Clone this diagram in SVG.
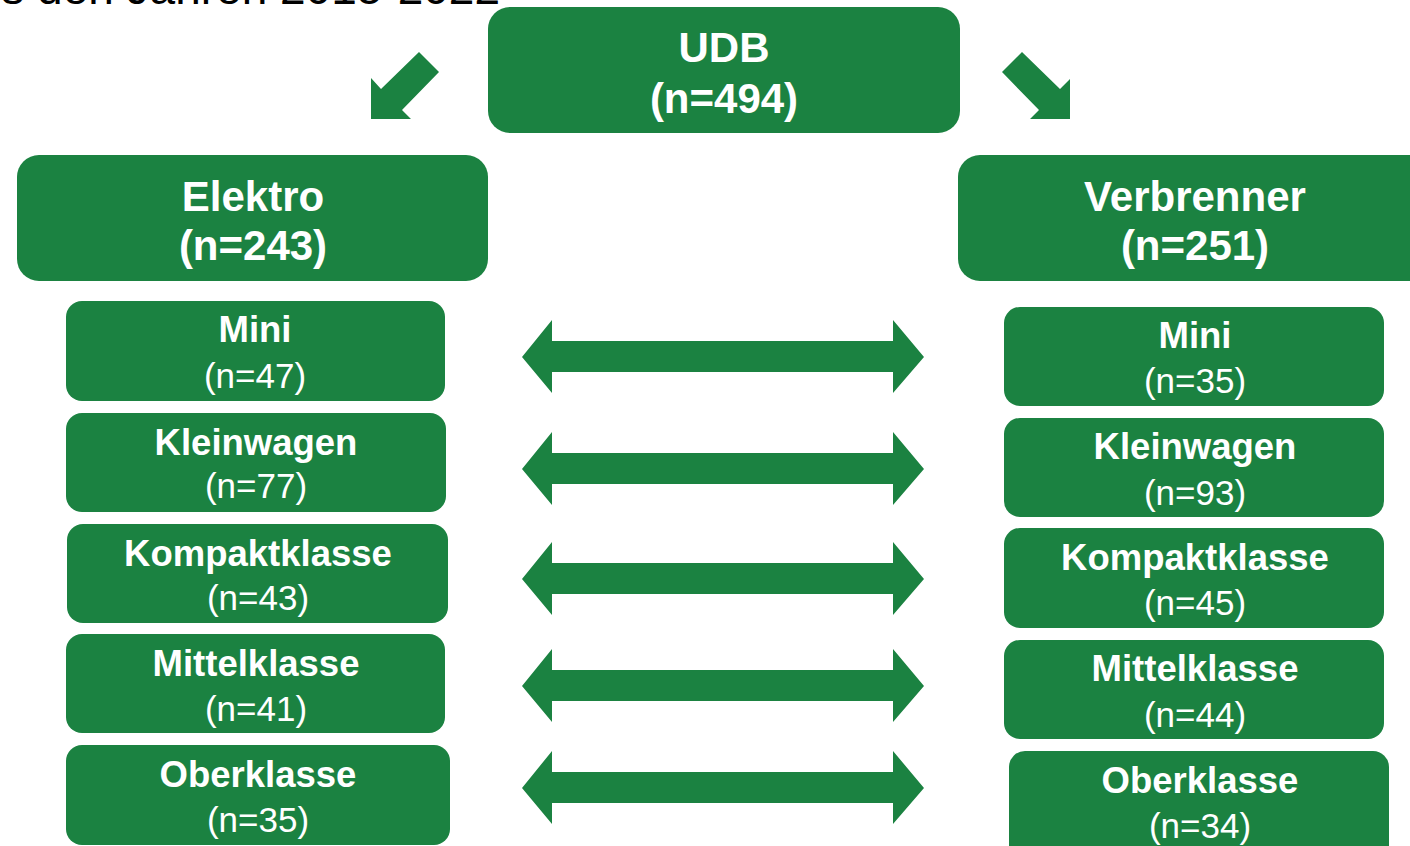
<svg xmlns="http://www.w3.org/2000/svg" width="1410" height="846" viewBox="0 0 1410 846">
<style>
.box{fill:#1b8241;}
.t{font-family:"Liberation Sans",Arial,sans-serif;fill:#ffffff;text-anchor:middle;}
.big{font-size:42px;font-weight:bold;}
.b{font-size:36.5px;font-weight:bold;}
.r{font-size:35px;}
.arr{fill:#1b8241;}
</style>
<rect width="1410" height="846" fill="#ffffff"/>
<text x="500" y="4" font-family="'Liberation Sans',Arial,sans-serif" font-size="46" fill="#000000" text-anchor="end">s den Jahren 2015-2022</text>

<g id="connectors">
  <polygon class="arr" points="371,78 381,89 419,52 439,72 402,110 411,119 371,119"/>
  <polygon class="arr" points="1070,79 1060,89 1022,52 1002,72 1039,110 1030,119 1070,119"/>
  <polygon class="arr" points="522,357 552,320 552,341 893,341 893,320 924,357 893,393 893,372 552,372 552,393"/>
  <polygon class="arr" points="522,469 552,432 552,453 893,453 893,432 924,469 893,505 893,484 552,484 552,505"/>
  <polygon class="arr" points="522,579 552,542 552,563 893,563 893,542 924,579 893,615 893,594 552,594 552,615"/>
  <polygon class="arr" points="522,686 552,649 552,670 893,670 893,649 924,686 893,722 893,701 552,701 552,722"/>
  <polygon class="arr" points="522,788 552,751 552,772 893,772 893,751 924,788 893,824 893,803 552,803 552,824"/>
</g>

<g id="udb">
  <rect class="box" x="488" y="7" width="472" height="126" rx="22"/>
  <text class="t big" x="724" y="62">UDB</text>
  <text class="t big" x="724" y="113">(n=494)</text>
</g>
<g id="elektro">
  <rect class="box" x="17" y="155" width="471" height="126" rx="22"/>
  <text class="t big" x="253" y="211">Elektro</text>
  <text class="t big" x="253" y="260">(n=243)</text>
</g>
<g id="verbrenner">
  <rect class="box" x="958" y="155" width="474" height="126" rx="22"/>
  <text class="t big" x="1195" y="211">Verbrenner</text>
  <text class="t big" x="1195" y="260">(n=251)</text>
</g>

<g id="e-mini">
  <rect class="box" x="66" y="301" width="379" height="100" rx="16"/>
  <text class="t b" x="255" y="342">Mini</text>
  <text class="t r" x="255" y="388">(n=47)</text>
</g>
<g id="e-klein">
  <rect class="box" x="66" y="413" width="380" height="99" rx="16"/>
  <text class="t b" x="256" y="455">Kleinwagen</text>
  <text class="t r" x="256" y="498">(n=77)</text>
</g>
<g id="e-kompakt">
  <rect class="box" x="67" y="524" width="381" height="99" rx="16"/>
  <text class="t b" x="258" y="566">Kompaktklasse</text>
  <text class="t r" x="258" y="610">(n=43)</text>
</g>
<g id="e-mittel">
  <rect class="box" x="66" y="634" width="379" height="99" rx="16"/>
  <text class="t b" x="256" y="676">Mittelklasse</text>
  <text class="t r" x="256" y="721">(n=41)</text>
</g>
<g id="e-ober">
  <rect class="box" x="66" y="745" width="384" height="100" rx="16"/>
  <text class="t b" x="258" y="787">Oberklasse</text>
  <text class="t r" x="258" y="832">(n=35)</text>
</g>

<g id="v-mini">
  <rect class="box" x="1004" y="307" width="380" height="99" rx="16"/>
  <text class="t b" x="1195" y="348">Mini</text>
  <text class="t r" x="1195" y="393">(n=35)</text>
</g>
<g id="v-klein">
  <rect class="box" x="1004" y="418" width="380" height="99" rx="16"/>
  <text class="t b" x="1195" y="459">Kleinwagen</text>
  <text class="t r" x="1195" y="505">(n=93)</text>
</g>
<g id="v-kompakt">
  <rect class="box" x="1004" y="528" width="380" height="100" rx="16"/>
  <text class="t b" x="1195" y="570">Kompaktklasse</text>
  <text class="t r" x="1195" y="615">(n=45)</text>
</g>
<g id="v-mittel">
  <rect class="box" x="1004" y="640" width="380" height="99" rx="16"/>
  <text class="t b" x="1195" y="681">Mittelklasse</text>
  <text class="t r" x="1195" y="727">(n=44)</text>
</g>
<g id="v-ober">
  <rect class="box" x="1009" y="751" width="380" height="110" rx="16"/>
  <text class="t b" x="1200" y="793">Oberklasse</text>
  <text class="t r" x="1200" y="838">(n=34)</text>
</g>
</svg>
